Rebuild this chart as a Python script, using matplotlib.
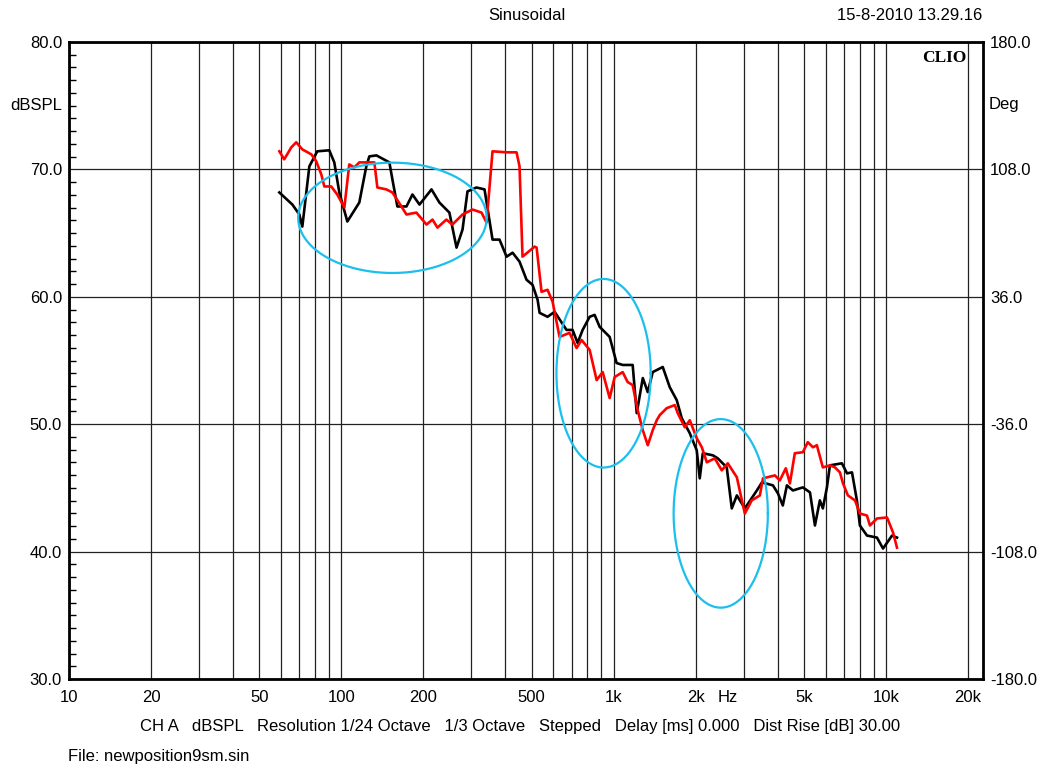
import numpy as np
import matplotlib
matplotlib.use("Agg")
import matplotlib.pyplot as plt

plt.rcParams['font.family'] = ['Liberation Sans', 'DejaVu Sans']
FS = 12

# black trace (Hz, dBSPL)
black_f = [59.2, 66.1, 70.1, 71.9, 76.3, 81.6, 90.3, 94.2, 98.3, 105.2, 116.4, 123.5, 126.7, 134.5,
           150.1, 154.0, 160.6, 173.4, 182.4, 193.6, 214.3, 229.1, 249.3, 264.8, 278.6, 290.5, 313.4,
           335.5, 359.0, 380.8, 404.4, 425.4, 451.1, 478.5, 503.5, 525.6, 534.6, 571.6, 606.9, 671.1,
           706.2, 737.1, 769.1, 816.0, 851.2, 888.2, 966.5, 1025, 1079, 1174, 1215, 1279, 1334, 1391,
           1514, 1606, 1704, 1778, 1903, 2018, 2070, 2124, 2311, 2411, 2601, 2714, 2833, 3031, 3355,
           3501, 3843, 4009, 4178, 4325, 4550, 4950, 5256, 5482, 5715, 5861, 6067, 6223, 6887, 7190,
           7499, 7816, 8017, 8510, 9262, 9749, 10520, 10970]
black_db = [68.19, 67.24, 66.46, 65.51, 70.24, 71.42, 71.50, 70.55, 68.19, 65.91, 67.40, 70.24, 71.02, 71.10,
            70.55, 69.21, 67.09, 67.09, 68.03, 67.24, 68.43, 67.40, 66.61, 63.86, 65.28, 68.27, 68.58,
            68.43, 64.49, 64.49, 63.15, 63.46, 62.76, 61.34, 60.94, 59.76, 58.74, 58.43, 58.82, 57.40,
            57.40, 56.38, 57.40, 58.43, 58.58, 57.64, 56.85, 54.80, 54.65, 54.65, 50.87, 53.62, 52.52, 54.09,
            54.49, 52.91, 51.89, 50.47, 49.29, 47.95, 45.75, 47.72, 47.56, 47.32, 46.61, 43.39, 44.41, 43.39, 44.80,
            45.43, 45.20, 44.57, 43.62, 45.20, 44.80, 45.04, 44.65, 42.05, 44.02, 43.39, 45.04, 46.77, 46.93, 46.14,
            46.22, 44.02, 42.05, 41.26, 41.10, 40.24, 41.26, 41.10]

# red trace (Hz, dBSPL)
red_f = [59.2, 61.7, 65.5, 68.3, 71.9, 77.6, 80.9, 84.4, 86.6, 91.8, 96.6, 102.6, 106.9, 111.6, 116.4,
         123.5, 132.2, 135.6, 146.3, 154.0, 166.2, 173.4, 188.6, 205.4, 216.1, 225.4, 243.0, 255.7,
         278.6, 303.1, 327.1, 341.3, 359.0, 404.4, 439.8, 451.1, 462.6, 512.5, 521.2, 543.3, 571.6,
         596.6, 632.7, 688.5, 730.6, 762.5, 816.0, 865.9, 911.1, 966.5, 1008, 1079, 1125, 1174, 1225,
         1279, 1334, 1391, 1439, 1476, 1566, 1676, 1718, 1824, 1903, 2018, 2107, 2197, 2350, 2493, 2624,
         2833, 2956, 3031, 3214, 3441, 3532, 3908, 4074, 4285, 4436, 4624, 4950, 5160, 5391, 5572, 5861,
         6223, 6494, 6771, 6950, 7244, 7691, 8017, 8510, 8730, 9262, 10085, 10610, 10970]
red_db = [71.42, 70.79, 71.73, 72.13, 71.57, 71.18, 70.63, 69.61, 68.66, 68.66, 68.03, 67.01, 70.39, 70.16, 70.55,
          70.55, 70.55, 68.58, 68.43, 68.19, 67.09, 66.46, 66.61, 65.67, 66.06, 65.43, 66.06, 65.67,
          66.46, 66.85, 66.61, 65.83, 71.42, 71.34, 71.34, 70.24, 63.15, 63.94, 63.86, 60.39, 60.55,
          59.61, 56.85, 57.17, 55.98, 56.61, 55.83, 53.46, 54.09, 52.05, 53.70, 54.09, 53.31, 53.07, 51.10,
          49.53, 48.35, 49.53, 50.31, 50.71, 51.26, 51.50, 50.87, 49.76, 50.31, 48.90, 48.19, 47.01, 47.32, 46.38, 46.93,
          45.83, 44.02, 42.99, 44.02, 44.41, 45.75, 45.98, 45.59, 46.54, 45.35, 47.72, 47.80, 48.59, 48.19, 48.35, 46.61,
          46.77, 46.61, 46.22, 45.35, 44.41, 44.02, 42.99, 42.83, 42.05, 42.60, 42.68, 41.50, 40.31]

# cyan ellipses: centre Hz, centre dB, half width (decades), half height (dB)
ell_f = [154, 918, 2472]
ell_db = [66.2, 54.0, 43.0]
ell_w = [0.346, 0.173, 0.173]
ell_h = [4.33, 7.4, 7.4]

xlabels = {10: '10', 20: '20', 50: '50', 100: '100', 200: '200', 500: '500',
           1000: '1k', 2000: '2k', 5000: '5k', 10000: '10k', 20000: '20k'}
deg_ticks = [-180, -108, -36, 36, 108, 180]

fig = plt.figure(figsize=(10.4, 7.67), dpi=100)
ax = fig.add_axes([69 / 1040, 1 - 679 / 767, (983 - 69) / 1040, (679 - 42) / 767])
ax.set_xscale('log')
ax.set_xlim(10, 22700)
ax.set_ylim(30, 80)

grid_f = [m * 10 ** d for d in range(1, 5) for m in range(1, 10) if m * 10 ** d <= 20000]
ax.set_xticks(grid_f)
ax.set_xticklabels([xlabels.get(f, '') for f in grid_f])
ax.xaxis.set_minor_locator(matplotlib.ticker.NullLocator())
ax.set_yticks(range(30, 81, 10))
ax.set_yticklabels(['%.1f' % v for v in range(30, 81, 10)])
ax.set_yticks(range(30, 81), minor=True)
ax.tick_params(axis='x', length=0, pad=8, labelsize=FS)
ax.tick_params(axis='y', which='major', length=0, pad=5, labelsize=FS)
ax.tick_params(axis='y', which='minor', direction='in', length=5, width=1, left=True, right=True)
ax.grid(True, which='major', color='#222222', linewidth=0.9)
for s in ax.spines.values():
    s.set_linewidth(2)

ax.plot(black_f, black_db, color='black', linewidth=1.9, zorder=3)
ax.plot(red_f, red_db, color='#ff0000', linewidth=1.9, zorder=4)

t = np.linspace(0, 2 * np.pi, 300)
for cf, cd, w, h in zip(ell_f, ell_db, ell_w, ell_h):
    ax.plot(cf * 10 ** (w * np.cos(t)), cd + h * np.sin(t), color='#1bbfee', linewidth=1.6, zorder=5)

ax2 = ax.twinx()
ax2.set_ylim(-180, 180)
ax2.set_yticks(deg_ticks)
ax2.set_yticklabels(['%.1f' % v for v in deg_ticks])
ax2.tick_params(axis='y', length=0, pad=5, labelsize=FS)

# "Hz" sits on the tick-label row between 2k and 3k
ax.annotate('Hz', xy=(2630, 30), xytext=(0, -8), textcoords='offset points',
            ha='center', va='top', fontsize=FS)

ax.text(0.982, 0.988, 'CLIO', transform=ax.transAxes, ha='right', va='top',
        fontsize=12.5, fontweight='bold', family='Liberation Serif')
fig.text(527 / 1040, 1 - 15 / 767, 'Sinusoidal', ha='center', va='center', fontsize=FS)
fig.text(982 / 1040, 1 - 15 / 767, '15-8-2010 13.29.16', ha='right', va='center', fontsize=FS)
fig.text(62 / 1040, 1 - 105 / 767, 'dBSPL', ha='right', va='center', fontsize=FS)
fig.text(989 / 1040, 1 - 105 / 767, 'Deg', ha='left', va='center', fontsize=FS)
fig.text(140 / 1040, 1 - 727 / 767,
         'CH A   dBSPL   Resolution 1/24 Octave   1/3 Octave   Stepped   Delay [ms] 0.000   Dist Rise [dB] 30.00',
         ha='left', va='center', fontsize=FS)
fig.text(68 / 1040, 1 - 756 / 767, 'File: newposition9sm.sin', ha='left', va='center', fontsize=FS)

fig.savefig('out.png', dpi=100)
